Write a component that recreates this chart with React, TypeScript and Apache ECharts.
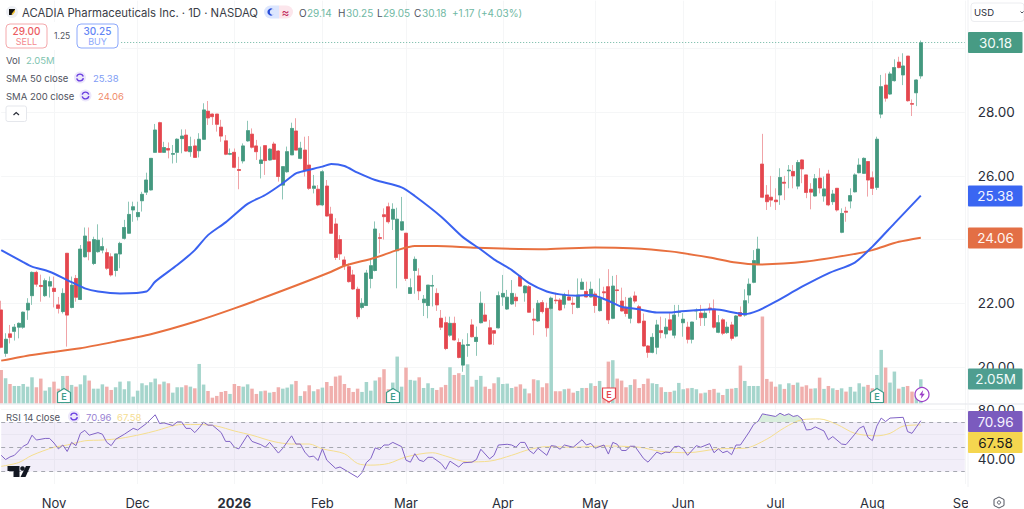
import React, { useEffect, useRef } from "react";
import * as echarts from "echarts";

const FONT = "Inter, 'Noto Sans', sans-serif";
const UP = "#44987F";
const DOWN = "#E4464E";
const UP_WICK = "#8FC6B7";
const DOWN_WICK = "#F0A3A7";
const UP_VOL = "#A5D5CC";
const DOWN_VOL = "#F0AFAD";

const categories: string[] = Array.from({ length: 220 }, (_, i) => String(i));
const monthTicks: Record<number, string> = {
  12: "Nov", 31: "Dec", 53: "2026", 73: "Feb", 92: "Mar", 114: "Apr",
  135: "May", 155: "Jun", 176: "Jul", 198: "Aug", 219: "Sep",
};
const priceTicks = { min: 18, max: 31.5, interval: 2 };
const rsiTicks = { min: 20, max: 80, interval: 20 };
const rsiLevels = [70, 50, 30];
// axis values whose labels sit fully behind a price tag in the reference
const hiddenAxisLabels = [30, 60];

// [open, close, low, high]
const candles: number[][] = [
  [21.79,20.62,20.59,22.08],[20.43,20.87,20.32,21.06],[21.04,20.93,20.74,21.32],[21.12,21.25,20.83,21.35],[21.25,21.37,20.9,21.4],
  [21.25,21.72,21.2,21.74],[21.79,22.0,21.48,22.16],[22.24,22.97,21.95,23.0],[22.97,22.6,22.52,23.02],[22.56,22.53,22.05,22.9],
  [22.24,22.71,22.2,22.78],[22.54,22.68,22.18,22.84],[22.47,22.37,21.87,22.84],[21.95,21.84,21.68,22.2],[21.74,22.31,21.68,22.47],
  [23.57,21.63,20.64,23.57],[21.87,22.57,21.84,22.84],[22.78,22.19,22.05,22.89],[22.12,23.7,22.1,23.83],[23.46,24.11,23.44,24.38],
  [23.93,23.62,23.35,24.38],[23.25,24.0,23.2,24.09],[23.62,23.98,23.59,24.48],[23.67,23.78,23.57,24.06],[23.59,23.1,23.05,23.72],
  [23.46,22.89,22.84,23.57],[23.03,23.55,22.84,23.55],[23.55,23.88,23.1,23.93],[24.04,24.38,24.0,24.62],[24.2,24.79,24.18,25.19],
  [24.93,25.03,24.56,25.19],[24.72,24.85,24.6,25.19],[25.22,25.42,24.88,25.5],[25.49,25.87,25.4,26.1],[25.56,26.55,25.54,26.55],
  [26.74,27.44,26.73,27.63],[27.67,26.74,26.73,27.7],[26.74,26.89,26.73,27.07],[26.86,26.81,26.55,27.05],[26.68,26.7,26.39,26.97],
  [26.74,27.15,26.41,27.18],[27.17,27.25,26.71,27.46],[27.28,26.78,26.76,27.46],[26.76,26.92,26.6,27.23],[26.94,26.58,26.58,27.15],
  [26.79,27.15,26.58,27.34],[27.15,28.07,27.13,28.28],[28.03,27.82,27.6,28.35],[27.94,27.86,27.6,27.96],[27.94,27.62,27.39,27.94],
  [27.53,27.25,27.07,27.76],[27.1,26.68,26.65,27.28],[26.68,26.7,26.65,26.86],[26.74,26.27,26.24,26.86],[26.2,26.17,25.58,26.6],
  [26.47,26.94,26.39,27.02],[27.1,27.42,27.07,27.73],[27.31,26.9,26.86,27.49],[26.94,26.76,26.5,27.13],[26.39,26.5,25.92,26.92],
  [26.95,26.48,26.03,26.95],[26.5,26.84,26.48,26.87],[27.0,26.52,26.5,27.07],[26.78,25.98,25.82,26.81],[25.71,26.29,25.26,26.29],
  [26.13,26.76,26.1,26.92],[26.66,27.49,26.66,27.67],[27.41,26.81,26.81,27.81],[26.55,26.87,26.52,27.07],[26.81,26.18,25.98,27.23],
  [26.34,25.61,25.56,27.25],[25.61,25.68,25.45,26.03],[25.58,25.09,25.05,25.71],[25.09,26.13,25.05,26.18],[25.68,24.74,24.72,25.87],
  [24.8,24.2,24.18,25.03],[24.49,23.44,23.36,24.67],[24.0,23.55,23.36,24.14],[23.36,23.18,23.05,23.47],[23.15,22.68,22.65,23.25],
  [22.89,22.45,22.42,23.05],[22.44,21.58,21.5,22.52],[21.87,22.0,21.81,22.16],[21.93,22.95,21.92,23.05],[22.78,23.18,22.47,23.36],
  [23.03,24.33,23.0,24.57],[24.06,24.04,23.57,24.2],[24.78,24.72,24.0,24.98],[25.03,24.56,24.5,25.16],[24.64,24.95,24.3,25.14],
  [23.65,24.64,22.47,25.0],[24.3,24.56,24.28,25.34],[24.2,22.78,22.7,24.2],[22.31,22.49,22.29,22.78],[23.03,23.38,22.3,23.47],
  [22.86,22.39,22.1,23.1],[22.02,22.13,21.6,22.26],[21.93,22.57,21.53,22.57],[22.54,22.56,21.9,22.89],[22.31,21.95,21.76,22.47],
  [21.53,21.25,21.16,21.79],[21.39,20.58,20.53,21.58],[21.0,21.37,20.95,21.58],[21.37,20.85,20.83,21.58],[20.77,20.3,20.27,20.9],
  [20.06,20.69,19.85,20.87],[20.68,20.7,20.32,21.06],[21.32,20.95,20.93,21.5],[20.8,20.93,20.35,21.27],[21.39,22.0,21.37,22.37],
  [21.63,21.44,21.42,22.0],[21.23,20.72,20.69,21.48],[21.14,21.06,20.69,21.16],[21.23,22.24,21.21,22.37],[22.2,22.31,21.92,22.89],
  [21.82,22.19,21.79,22.42],[21.98,22.31,21.95,22.73],[22.19,22.08,21.89,22.31],[22.84,22.54,22.52,22.89],[22.33,22.54,22.05,22.57],
  [22.52,21.72,21.7,22.57],[21.5,21.47,21.0,21.84],[21.45,22.0,21.42,22.1],[22.02,21.74,21.68,22.1],[21.84,21.23,20.95,22.02],
  [21.84,22.16,21.79,22.21],[22.1,22.08,21.98,22.33],[22.1,21.79,21.76,22.16],[21.97,22.26,21.84,22.33],[22.2,22.1,22.08,22.42],
  [22.0,21.97,21.66,22.2],[21.87,22.26,21.84,22.78],[22.44,22.66,22.42,22.78],[22.37,22.2,22.18,22.68],[22.2,22.44,22.18,22.68],
  [22.29,21.93,21.7,22.37],[21.77,22.16,21.74,22.78],[22.36,22.33,22.1,22.52],[22.52,21.48,21.35,23.07],[21.53,22.54,21.5,22.86],
  [22.42,22.4,21.98,22.89],[22.07,21.76,21.74,22.49],[21.87,21.68,21.58,22.2],[21.53,22.16,21.37,22.21],[22.23,22.07,22.0,22.37],
  [21.89,21.39,21.37,21.95],[21.44,20.66,20.64,21.68],[20.66,20.46,20.29,20.69],[20.46,20.93,20.43,21.06],[20.62,21.32,20.4,21.48],
  [21.14,21.08,20.9,21.58],[21.04,21.25,20.9,21.53],[21.48,21.16,21.14,21.69],[21.0,21.63,20.9,21.95],[21.72,21.74,21.58,21.95],
  [21.39,21.5,20.95,21.69],[21.25,20.87,20.74,21.42],[20.87,21.41,20.74,21.42],[21.76,21.78,21.48,21.84],[21.69,21.55,21.29,21.95],
  [21.55,21.69,21.29,21.79],[21.85,21.82,21.69,22.0],[21.81,21.25,21.21,22.12],[21.09,21.39,21.06,21.63],[21.48,21.06,21.0,21.53],
  [21.08,21.25,21.04,21.42],[21.32,20.9,20.83,21.42],[20.97,21.6,20.93,21.63],[21.71,21.6,21.58,21.9],[21.63,22.08,21.58,22.44],
  [22.26,22.6,22.0,22.78],[22.66,23.34,22.63,23.67],[23.23,23.7,23.2,24.09],[26.37,25.33,25.3,27.32],[25.4,25.19,24.93,25.71],
  [25.33,25.24,25.03,26.0],[25.24,25.19,24.93,25.61],[25.4,25.95,25.09,26.24],[25.8,25.77,25.24,26.0],[26.16,26.18,25.61,26.34],
  [26.14,26.0,25.61,26.34],[25.68,26.42,25.58,26.5],[26.5,26.22,25.77,26.52],[26.03,25.48,25.3,26.03],[25.58,25.49,24.95,25.77],
  [25.37,25.91,25.35,26.06],[25.93,25.62,25.45,26.24],[25.37,25.59,25.19,25.98],[26.06,25.09,25.05,26.19],[25.19,25.43,25.09,25.56],
  [25.61,24.93,24.88,25.61],[24.23,24.82,24.2,24.98],[24.89,24.86,24.56,25.03],[25.21,25.38,24.98,25.61],[25.5,26.03,25.48,26.08],
  [26.1,26.34,26.08,26.55],[26.08,26.55,26.06,26.58],[26.45,25.87,25.35,26.45],[25.94,25.61,25.4,26.14],[25.64,27.15,25.56,27.23],
  [27.94,28.8,27.81,29.17],[28.85,28.44,28.33,29.22],[28.57,29.2,28.54,29.27],[28.99,29.4,28.96,29.66],[29.57,29.4,29.38,29.74],
  [29.17,29.45,28.85,29.85],[29.76,28.36,28.33,29.76],[28.27,28.25,27.88,28.4],[28.61,29.01,28.19,29.03],[29.14,30.18,29.05,30.25],
];

// millions of shares
const volumes: number[] = [
  2.85,2.14,1.65,1.48,1.48,1.65,1.42,2.22,1.37,2.11,1.08,1.37,1.85,1.25,2.34,2.34,1.57,1.42,1.62,2.39,
  1.94,1.25,1.25,1.62,1.42,1.14,1.37,1.85,1.20,1.88,0.57,1.08,1.71,1.54,1.80,2.11,1.62,1.85,1.71,0.91,
  1.37,1.37,1.54,1.42,1.28,3.36,1.60,1.05,0.48,0.63,0.97,1.05,0.80,1.65,1.48,1.42,1.62,1.25,0.80,1.03,
  1.08,0.91,0.97,1.37,1.25,1.34,1.62,1.91,0.63,1.03,1.54,1.03,1.20,1.34,1.82,1.48,2.28,2.37,1.65,1.31,
  0.97,1.25,0.97,1.82,1.08,1.94,2.22,2.91,1.20,1.77,3.99,1.42,3.05,2.0,1.94,2.22,1.31,1.71,1.31,1.14,
  1.37,1.57,3.08,2.42,2.57,2.42,3.33,1.42,2.0,2.34,1.42,1.23,1.71,2.22,1.65,1.68,1.31,1.42,1.62,1.25,
  0.85,2.05,1.97,1.37,1.71,8.12,1.03,1.03,1.20,1.25,0.91,1.05,1.31,1.31,1.71,1.48,1.91,1.25,3.56,3.68,
  2.11,1.94,1.37,1.57,2.05,1.31,1.65,2.11,1.71,1.65,1.37,0.97,0.97,1.08,1.74,1.20,1.28,1.31,1.20,0.85,
  0.91,1.14,1.23,0.91,0.71,1.23,1.25,1.31,3.22,1.91,1.48,1.48,1.48,7.41,2.08,1.85,1.42,1.62,1.23,1.71,
  1.57,1.77,1.42,1.54,1.25,1.28,2.19,1.23,1.48,1.28,1.14,1.28,1.0,1.40,1.0,1.71,1.42,1.57,1.28,2.42,
  4.56,3.05,1.77,2.71,1.25,1.40,1.48,1.0,0.71,2.05,
];

const sma50: number[][] = [
  [0,23.67],[5,23.29],[7,23.15],[11,22.99],[15,22.73],[19,22.47],[22,22.37],[27,22.31],[33,22.37],[35,22.68],
  [40,23.2],[44,23.67],[47,24.14],[51,24.54],[56,25.12],[60,25.4],[64,25.77],[67,26.08],[69,26.16],[73,26.29],
  [75,26.37],[78,26.31],[81,26.1],[85,25.87],[91,25.64],[94,25.37],[100,24.72],[105,24.07],[109,23.69],[112,23.38],
  [116,23.05],[120,22.63],[124,22.37],[127,22.28],[131,22.24],[134,22.26],[138,22.08],[141,21.89],[145,21.81],[149,21.71],
  [152,21.71],[154,21.74],[162,21.81],[169,21.66],[172,21.77],[176,22.05],[182,22.52],[188,22.94],[194,23.28],[198,23.78],
  [203,24.51],[209,25.38],
];
const sma200: number[][] = [
  [0,20.2],[7,20.38],[18,20.59],[26,20.8],[34,21.03],[44,21.42],[53,21.84],[64,22.4],[75,22.99],[78,23.18],
  [85,23.43],[90,23.67],[94,23.8],[99,23.8],[108,23.74],[124,23.7],[135,23.75],[143,23.73],[152,23.63],[161,23.44],
  [167,23.28],[172,23.22],[183,23.31],[194,23.55],[198,23.67],[204,23.93],[209,24.06],
];
const rsi: number[][] = [
  [0,43.1],[1,39.7],[2,41.8],[3,43.1],[5,50.4],[6,52.2],[7,59.3],[8,55.4],[10,56.7],[11,56.7],[12,53],[13,48.3],[14,51.4],[15,46.2],
  [16,53.5],[17,50.9],[18,60.8],[19,63.2],[20,59.3],[22,61.4],[23,60.1],[24,53.5],[25,50.9],[26,56],[28,60.1],[30,64.8],[31,63.5],
  [33,68.7],[35,75.75],[36,68.7],[37,69.2],[39,67.1],[40,70],[41,70],[42,64.8],[43,64.8],[44,61.4],[45,65.3],[46,69.8],[47,67.4],
  [48,67.4],[50,61.4],[51,54.3],[52,54.3],[53,49.6],[54,48.3],[56,59.5],[57,54.3],[59,51.7],[60,49.6],[61,53.5],[63,44.9],[64,48.8],
  [66,58.8],[67,52.2],[68,52.2],[69,45.7],[70,41.8],[71,42.5],[72,38.9],[73,48.3],[74,39.2],[76,32.6],[77,33.7],[79,29.5],[81,25.3],
  [82,29.2],[83,37.3],[84,40.5],[85,49.1],[86,47.8],[87,51.4],[88,51.4],[89,53.5],[91,50.1],[92,39.2],[93,37.6],[94,44.4],[95,39.2],
  [96,38.1],[97,41.5],[98,41.5],[100,36.5],[101,31.8],[102,38.4],[104,33.7],[105,37.1],[107,37.6],[108,39.7],[109,48],[111,40.2],
  [112,43.1],[113,51.4],[115,52],[116,51.4],[117,49.6],[118,53.5],[119,53.5],[120,47],[121,44.4],[122,48.8],[124,43.1],[125,50.9],
  [126,50.4],[127,48],[128,51.4],[130,49.6],[132,55.6],[133,51.4],[134,52.7],[135,48.8],[137,51.4],[138,44.1],[139,53.5],[140,52],
  [141,47],[142,47],[143,50.4],[144,50.4],[146,40.5],[147,37.6],[149,45.7],[150,44.1],[151,45.7],[152,45.4],[153,50.1],[154,50.4],
  [155,48.3],[156,43.1],[158,50.9],[159,49.6],[161,52.5],[162,45.2],[163,48.3],[164,45.2],[165,46.5],[166,43.6],[167,51.4],[168,51.4],
  [170,61.9],[171,67.9],[172,70.5],[173,76.5],[174,75.75],[176,74.4],[177,77],[178,75.2],[179,76.5],[180,74.4],[181,75.2],[182,72.4],
  [183,63.5],[184,63.9],[185,66],[187,62.7],[188,55.6],[189,58.2],[191,52.2],[192,51.7],[194,60.1],[195,64.8],[196,66.6],[197,57.5],
  [198,54.9],[199,66.6],[200,73.1],[201,70.3],[202,73.1],[205,73.7],[206,62.2],[207,60.8],[209,70.96],
];
const rsiMa: number[][] = [
  [0,34.2],[4,37.3],[7,43.1],[12,49.6],[15,51.4],[19,54.8],[23,55.4],[27,56.7],[32,60.1],[35,62.7],[41,67.9],[45,67.9],[49,66.6],
  [53,62.7],[57,59.3],[62,54.1],[66,52.2],[70,52.2],[73,48.3],[78,44.4],[81,36.5],[84,35.2],[88,36.5],[92,41.8],[98,45.2],[101,42.5],
  [106,37.8],[111,38.4],[116,43.1],[120,47.8],[124,50.1],[130,49.6],[137,50.6],[145,49.6],[150,46.2],[156,45.2],[163,48.3],[169,48.8],
  [174,56.1],[178,65.3],[182,71.8],[186,72.4],[190,67.9],[194,60.8],[199,58.8],[202,60.8],[205,66.6],[209,67.58],
];

const priceTags = [
  { text: "30.18", y: 42.5, h: 21, fill: "#479B84", color: "#F4FBF9" },
  { text: "25.38", y: 196, h: 21, fill: "#3A66F2", color: "#F2F5FF" },
  { text: "24.06", y: 238, h: 21, fill: "#E36F45", color: "#FFF6F2" },
  { text: "2.05M", y: 379, h: 21, fill: "#4E9E90", color: "#F1FAF8" },
  { text: "70.96", y: 421.5, h: 21, fill: "#7B5BBE", color: "#F7F3FF" },
  { text: "67.58", y: 442.5, h: 21, fill: "#F5D64F", color: "#1A1A1A" },
];

const txt = (text: string, x: number, y: number, fill: string, fontSize = 11, extra: any = {}) => ({
  type: "text", x, y, z: 60,
  style: { text, fill, fontSize, fontFamily: FONT, textVerticalAlign: "middle", verticalAlign: "middle", ...extra },
});

const earningsIcon = (x: number, y: number, color: string, down: boolean) => ({
  type: "group", x, y, z: 60,
  children: [
    {
      type: "polygon", z: 60,
      shape: { points: down
        ? [[-6.5, -7], [6.5, -7], [6.5, 3], [0, 7], [-6.5, 3]]
        : [[-6.5, -3], [0, -7], [6.5, -3], [6.5, 7], [-6.5, 7]] },
      style: { fill: "#fff", stroke: color, lineWidth: 1.2 },
    },
    { type: "text", x: 0, y: down ? -0.5 : 0.8, z: 61, style: { text: "E", fill: color, fontSize: 9, fontWeight: 600, fontFamily: FONT, align: "center", verticalAlign: "middle" } },
  ],
});

const refreshIcon = (x: number, y: number) => ({
  type: "group", x, y, z: 60,
  children: [
    { type: "circle", z: 60, shape: { cx: 0, cy: 0, r: 6 }, style: { fill: "#ECE7FB" } },
    { type: "arc", z: 61, shape: { cx: 0, cy: 0, r: 3.4, startAngle: 0.2, endAngle: 2.9 }, style: { stroke: "#6A3FE0", lineWidth: 1.4, fill: "none" } },
    { type: "arc", z: 61, shape: { cx: 0, cy: 0, r: 3.4, startAngle: 3.4, endAngle: 6.0 }, style: { stroke: "#6A3FE0", lineWidth: 1.4, fill: "none" } },
  ],
});

const boxBtn = (x: number, w: number, stroke: string, color: string, sub: string, top: string, lightSub: string) => [
  { type: "rect", z: 59, shape: { x, y: 24, width: w, height: 24, r: 4 }, style: { fill: "#fff", stroke, lineWidth: 1 } },
  { type: "text", z: 60, x: x + w / 2, y: 31, style: { text: top, fill: color, fontSize: 10, fontWeight: 500, fontFamily: FONT, align: "center", verticalAlign: "middle" } },
  { type: "text", z: 60, x: x + w / 2, y: 41, style: { text: sub, fill: lightSub, fontSize: 9, fontFamily: FONT, align: "center", verticalAlign: "middle" } },
];

const graphics: any[] = [
  // pane chrome
  { type: "rect", z: 5, shape: { x: 968, y: 490, width: 56, height: 19 }, style: { fill: "#fff" } },
  { type: "line", z: 1, shape: { x1: 0, y1: 404, x2: 1024, y2: 404 }, style: { stroke: "#E3E5EA", lineWidth: 1 } },
  { type: "line", z: 1, shape: { x1: 968, y1: 0, x2: 968, y2: 487 }, style: { stroke: "#F0F1F4", lineWidth: 1 } },
  { type: "rect", z: 58, shape: { x: 0, y: 22, width: 121, height: 28 }, style: { fill: "#fff" } },

  // header
  { type: "circle", z: 60, shape: { cx: 12, cy: 12, r: 6 }, style: { fill: "#EEF0F5" } },
  { type: "polygon", z: 61, shape: { points: [[9, 9], [15, 9], [15, 11], [11.5, 15], [9, 15]] }, style: { fill: "#111" } },
  { type: "polygon", z: 62, shape: { points: [[15, 9.5], [15, 12], [12.5, 15], [11.5, 14]] }, style: { fill: "#F2C230" } },
  txt("ACADIA Pharmaceuticals Inc. · 1D · NASDAQ", 22, 12.5, "#3A3D46", 11.3),
  { type: "rect", z: 60, shape: { x: 264, y: 5.5, width: 15, height: 13, r: [6.5, 0, 0, 6.5] }, style: { fill: "#DCE6FE" } },
  { type: "rect", z: 60, shape: { x: 279, y: 5.5, width: 14, height: 13, r: [0, 6.5, 6.5, 0] }, style: { fill: "#FCE6EC" } },
  { type: "circle", z: 61, shape: { cx: 271, cy: 12, r: 3.6 }, style: { fill: "#2B4FD8" } },
  { type: "circle", z: 62, shape: { cx: 272.8, cy: 12, r: 3 }, style: { fill: "#DCE6FE" } },
  { ...txt("≈", 281.5, 12, "#C2305E", 12), z: 61 },
  txt("O", 299, 12.5, "#50535E", 10),
  txt("29.14", 307, 12.5, "#6FB8A3", 10),
  txt("H", 338, 12.5, "#50535E", 10),
  txt("30.25", 346, 12.5, "#6FB8A3", 10),
  txt("L", 377, 12.5, "#50535E", 10),
  txt("29.05", 383, 12.5, "#6FB8A3", 10),
  txt("C", 414, 12.5, "#50535E", 10),
  txt("30.18", 422, 12.5, "#6FB8A3", 10),
  txt("+1.17 (+4.03%)", 452, 12.5, "#6FB8A3", 10),

  // buy / sell
  ...boxBtn(6, 41, "#F4A9AC", "#EC5C62", "SELL", "29.00", "#F48A8E"),
  txt("1.25", 54, 36, "#50535E", 8.5),
  ...boxBtn(77, 41, "#8CA8FB", "#6285F5", "BUY", "30.25", "#8CA8FB"),

  // legend
  txt("Vol", 6, 60.5, "#50535E", 9.5),
  txt("2.05M", 26, 60.5, "#7FC4B0", 9.5),
  txt("SMA 50 close", 6, 78, "#50535E", 9.5),
  refreshIcon(80, 77.5),
  txt("25.38", 93, 78, "#7E9CF5", 9.5),
  txt("SMA 200 close", 6, 96, "#50535E", 9.5),
  refreshIcon(85.5, 95.5),
  txt("24.06", 98, 96, "#F08A6A", 9.5),
  { type: "rect", z: 60, shape: { x: 6, y: 106, width: 20.5, height: 15.5, r: 2 }, style: { fill: "#fff", stroke: "#E5E7EC", lineWidth: 1 } },
  { type: "polyline", z: 61, shape: { points: [[13.5, 115], [16.2, 112.5], [19, 115]] }, style: { stroke: "#2A2E39", lineWidth: 1.2, fill: "none" } },

  txt("RSI 14 close", 6, 417, "#50535E", 9.5),
  refreshIcon(74, 416.5),
  txt("70.96", 86, 417, "#9A84D4", 9.5),
  txt("67.58", 117, 417, "#F5DD92", 9.5),

  // earnings markers
  earningsIcon(64, 395.5, "#3E9E8C", false),
  earningsIcon(393, 395.5, "#3E9E8C", false),
  earningsIcon(609, 395, "#E4464E", true),
  earningsIcon(877, 395.5, "#3E9E8C", false),
  {
    type: "group", x: 922, y: 394.5, z: 60,
    children: [
      { type: "circle", z: 60, shape: { cx: 0, cy: 0, r: 7 }, style: { fill: "#fff", stroke: "#9C3FC8", lineWidth: 1.2 } },
      { type: "polygon", z: 61, shape: { points: [[1.2, -4.5], [-2.8, 0.8], [-0.4, 0.8], [-1.2, 4.5], [2.8, -0.8], [0.4, -0.8]] }, style: { fill: "#9C3FC8" } },
    ],
  },

  // TradingView logo
  { type: "polygon", z: 60, shape: { points: [[7.5, 466], [19.5, 466], [19.5, 477], [13.5, 477], [13.5, 471], [7.5, 471]] }, style: { fill: "#131722" } },
  { type: "circle", z: 60, shape: { cx: 22.5, cy: 468.5, r: 2.3 }, style: { fill: "#131722" } },
  { type: "polygon", z: 60, shape: { points: [[26, 466], [30.5, 466], [25.5, 477], [20.5, 477]] }, style: { fill: "#131722" } },

  // currency selector + settings
  { type: "rect", z: 60, shape: { x: 971, y: 3, width: 53, height: 18.5, r: 3 }, style: { fill: "#fff", stroke: "#ECEDF0", lineWidth: 1 } },
  txt("USD", 974, 12.5, "#2A2E39", 9.5),
  { type: "polyline", z: 61, shape: { points: [[1020.5, 11.5], [1022, 13], [1023.5, 11.5]] }, style: { stroke: "#50535E", lineWidth: 1, fill: "none" } },
  { type: "polygon", z: 60, shape: { points: [[999, 497], [1004, 499.5], [1004, 505.5], [999, 508], [994, 505.5], [994, 499.5]] }, style: { fill: "#fff", stroke: "#50535E", lineWidth: 1 } },
  { type: "circle", z: 61, shape: { cx: 999, cy: 502.5, r: 1.6 }, style: { fill: "#fff", stroke: "#50535E", lineWidth: 1 } },

  // price tags
  ...priceTags.flatMap((t) => [
    { type: "rect", z: 62, shape: { x: 968, y: t.y - t.h / 2, width: 54.5, height: t.h, r: 1 }, style: { fill: t.fill } },
    { type: "text", z: 63, x: 995.5, y: t.y + 0.3, style: { text: t.text, fill: t.color, fontSize: 13.5, fontFamily: FONT, align: "center", verticalAlign: "middle" } },
  ]),
];

const isTick = (i: number | string) => monthTicks[Number(i)] !== undefined;
const gridLine = { color: "#F5F6F7", width: 1 };
const axisValue = (v: number) => (hiddenAxisLabels.includes(v) ? "" : v.toFixed(2));

const bareX = (gridIndex: number) => ({
  type: "category" as const,
  gridIndex,
  data: categories,
  boundaryGap: false,
  axisLine: { show: false },
  axisTick: { show: false },
  axisLabel: { show: false },
  splitLine: { show: true, lineStyle: gridLine, interval: (i: number) => isTick(i) },
});

export default function App() {
  const ref = useRef<HTMLDivElement>(null);
  useEffect(() => {
    if (!ref.current) return;
    const chart = echarts.init(ref.current, undefined, { renderer: "svg", width: 1024, height: 509 });
    const up = (c: number[]) => c[1] >= c[0];
    chart.setOption({
      animation: false,
      backgroundColor: "#fff",
      graphic: { elements: graphics },
      grid: [
        // y(p) = 367 - 31.85 * (p - 20)
        { left: 1.2, top: 0.7, width: 963.6, height: 430 },
        { left: 1.2, top: 300, width: 963.6, height: 103.3 },
        { left: 1.2, top: 409.5, width: 963.6, height: 76.5 },
      ],
      xAxis: [
        bareX(0),
        { ...bareX(1), splitLine: { show: false } },
        {
          ...bareX(2),
          axisLabel: {
            show: true,
            interval: (i: number) => isTick(i),
            formatter: (v: string) => {
              const l = monthTicks[Number(v)] ?? "";
              return l === "2026" ? `{b|${l}}` : l;
            },
            margin: 12,
            fontSize: 13,
            fontFamily: FONT,
            color: "#2A2E39",
            rich: { b: { fontSize: 13, fontWeight: 700, fontFamily: FONT, color: "#2A2E39" } },
          },
        },
      ],
      yAxis: [
        {
          type: "value", gridIndex: 0, position: "right", min: priceTicks.min, max: priceTicks.max, interval: priceTicks.interval,
          axisLine: { show: false }, axisTick: { show: false },
          splitLine: { show: true, lineStyle: gridLine, showMinLine: false, showMaxLine: false },
          axisLabel: { margin: 13, fontSize: 13.5, fontFamily: FONT, color: "#2A2E39", showMinLabel: false, showMaxLabel: false, formatter: axisValue },
        },
        { type: "value", gridIndex: 1, min: 0, max: 8.82, show: false },
        {
          type: "value", gridIndex: 2, position: "right", min: rsiTicks.min, max: rsiTicks.max, interval: rsiTicks.interval,
          axisLine: { show: false }, axisTick: { show: false },
          splitLine: { show: true, lineStyle: gridLine, showMinLine: false },
          axisLabel: { margin: 13, fontSize: 13.5, fontFamily: FONT, color: "#2A2E39", showMinLabel: false, formatter: axisValue },
        },
      ],
      series: [
        {
          name: "Volume", type: "bar", xAxisIndex: 1, yAxisIndex: 1, barWidth: 3.5, silent: true, z: 1,
          data: volumes.map((v, i) => ({ value: v, itemStyle: { color: up(candles[i]) ? UP_VOL : DOWN_VOL } })),
        },
        {
          name: "Wicks", type: "candlestick", xAxisIndex: 0, yAxisIndex: 0, barWidth: 3.4, clip: false, silent: true, z: 2,
          itemStyle: { color: UP_WICK, color0: DOWN_WICK, borderColor: UP_WICK, borderColor0: DOWN_WICK, borderWidth: 1 },
          data: candles,
          markLine: {
            silent: true, symbol: "none", label: { show: false }, animation: false,
            lineStyle: { color: "#6CB5A0", type: [1, 2], width: 1 },
            data: [{ yAxis: candles[candles.length - 1][1] }],
          },
        },
        {
          name: "ACADIA", type: "candlestick", xAxisIndex: 0, yAxisIndex: 0, barWidth: 3.4, clip: false, silent: true, z: 3,
          itemStyle: { color: UP, color0: DOWN, borderColor: UP, borderColor0: DOWN, borderWidth: 0.6 },
          data: candles.map((c) => [c[0], c[1], Math.min(c[0], c[1]), Math.max(c[0], c[1])]),
        },
        {
          name: "SMA 200", type: "line", xAxisIndex: 0, yAxisIndex: 0, data: sma200, smooth: 0.25, showSymbol: false, silent: true, z: 4,
          lineStyle: { color: "#E8703F", width: 2 },
        },
        {
          name: "SMA 50", type: "line", xAxisIndex: 0, yAxisIndex: 0, data: sma50, smooth: 0.25, showSymbol: false, silent: true, z: 5,
          lineStyle: { color: "#3A62F0", width: 2 },
        },
        {
          name: "RSI overbought", type: "line", xAxisIndex: 2, yAxisIndex: 2, silent: true, showSymbol: false, z: 2,
          data: rsi.filter((p) => p[0] >= 172 && p[0] <= 182),
          lineStyle: { width: 0 },
          areaStyle: { origin: 70, color: "#D9EEDD", opacity: 1 },
        },
        {
          name: "RSI MA", type: "line", xAxisIndex: 2, yAxisIndex: 2, data: rsiMa, smooth: 0.3, showSymbol: false, silent: true, z: 3,
          lineStyle: { color: "#F5DE8E", width: 1 },
        },
        {
          name: "RSI", type: "line", xAxisIndex: 2, yAxisIndex: 2, data: rsi, showSymbol: false, silent: true, z: 4,
          lineStyle: { color: "#8163C6", width: 1 },
          markArea: {
            silent: true, animation: false,
            itemStyle: { color: "rgba(126,87,194,0.1)" },
            data: [[{ yAxis: rsiLevels[2] }, { yAxis: rsiLevels[0] }]],
          },
          markLine: {
            silent: true, symbol: "none", label: { show: false }, animation: false,
            lineStyle: { color: "#A6A8B0", type: [4, 4], width: 1 },
            data: rsiLevels.map((y) => ({ yAxis: y })),
          },
        },
      ],
    });
    return () => chart.dispose();
  }, []);
  return <div ref={ref} style={{ position: "fixed", left: 0, top: 0, width: 1024, height: 509 }} />;
}
